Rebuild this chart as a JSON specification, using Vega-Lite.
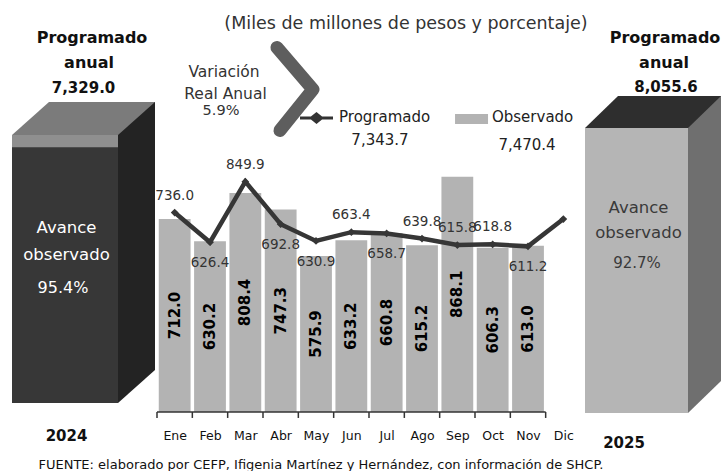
{
  "$schema": "https://vega.github.io/schema/vega-lite/v6.json",
  "padding": 0,
  "spacing": 0,
  "bounds": "flush",
  "background": "white",
  "config": {
    "view": {"stroke": null},
    "font": "DejaVu Sans",
    "axis": {"grid": false}
  },
  "hconcat": [
    {
      "width": 157,
      "height": 403,
      "data": {"values": [{"anio": "2024", "programado": 7329.0, "observado": 6991.9, "avance": 0.954}]},
      "encoding": {
        "x": {
          "field": "anio", "type": "nominal",
          "scale": {"paddingInner": 0, "paddingOuter": 0},
          "axis": {
            "title": "FUENTE: elaborado por CEFP, Ifigenia Martínez y Hernández, con información de SHCP.",
            "domain": false, "ticks": false, "labelAngle": 0,
            "labelOffset": -12, "labelPadding": 25,
            "labelFont": "DejaVu Sans", "labelFontWeight": "bold", "labelFontSize": 15, "labelColor": "#111",
            "titleX": 38, "titleY": 61, "titleAnchor": "start", "titleAlign": "left", "titleBaseline": "middle",
            "titleFont": "DejaVu Sans", "titleFontSize": 13, "titleFontWeight": "normal", "titleColor": "#111"
          }
        }
      },
      "layer": [
        {"mark": {"type": "bar", "width": 106, "xOffset": 23.5, "yOffset": -33, "color": "#232323"},
         "encoding": {"y": {"field": "programado", "type": "quantitative", "scale": {"domain": [0, 11021], "nice": false}, "axis": null}}},
        {"mark": {"type": "point", "shape": "M -53 0 L 53 0 L 90 -33 L -16 -33 Z", "size": 4, "filled": true, "fill": "#7b7b7b", "strokeWidth": 0, "opacity": 1, "xOffset": -13.5},
         "encoding": {"y": {"field": "programado", "type": "quantitative"}}},
        {"mark": {"type": "point", "shape": "M 53 0 L 53 -33 L 90 -33 Z", "size": 4, "filled": true, "fill": "#232323", "strokeWidth": 0, "opacity": 1, "xOffset": -13.5},
         "encoding": {"y": {"datum": 0, "type": "quantitative"}}},
        {"mark": {"type": "bar", "width": 106, "xOffset": -13.5, "color": "#8f8f8f"},
         "encoding": {"y": {"field": "programado", "type": "quantitative"}}},
        {"mark": {"type": "bar", "width": 106, "xOffset": -13.5, "color": "#373737"},
         "encoding": {"y": {"field": "observado", "type": "quantitative"}}},
        {"mark": {"type": "text", "text": "Programado", "fontWeight": "bold", "fontSize": 16, "baseline": "alphabetic", "dx": 13.5, "color": "#111"},
         "encoding": {"y": {"datum": 9845, "type": "quantitative"}}},
        {"mark": {"type": "text", "text": "anual", "fontWeight": "bold", "fontSize": 16, "baseline": "alphabetic", "dx": 10.5, "color": "#111"},
         "encoding": {"y": {"datum": 9161, "type": "quantitative"}}},
        {"mark": {"type": "text", "fontWeight": "bold", "fontSize": 15, "baseline": "alphabetic", "dx": 5, "color": "#111"},
         "encoding": {"y": {"datum": 8477, "type": "quantitative"}, "text": {"field": "programado", "type": "quantitative", "format": ",.1f"}}},
        {"mark": {"type": "text", "text": "Avance\nobservado", "lineBreak": "\n", "lineHeight": 27, "fontSize": 16.5, "color": "white", "dx": -12, "baseline": "middle"},
         "encoding": {"y": {"datum": 4786, "type": "quantitative"}}},
        {"mark": {"type": "text", "fontSize": 16, "color": "white", "dx": -15.5, "baseline": "middle"},
         "encoding": {"y": {"datum": 3145, "type": "quantitative"}, "text": {"field": "avance", "type": "quantitative", "format": ".1%"}}}
      ]
    },
    {
      "width": 424,
      "height": 412,
      "data": {"values": [
        {"mes": "Ene", "observado": 712.0, "programado": 736.0},
        {"mes": "Feb", "observado": 630.2, "programado": 626.4},
        {"mes": "Mar", "observado": 808.4, "programado": 849.9},
        {"mes": "Abr", "observado": 747.3, "programado": 692.8},
        {"mes": "May", "observado": 575.9, "programado": 630.9},
        {"mes": "Jun", "observado": 633.2, "programado": 663.4},
        {"mes": "Jul", "observado": 660.8, "programado": 658.7},
        {"mes": "Ago", "observado": 615.2, "programado": 639.8},
        {"mes": "Sep", "observado": 868.1, "programado": 615.8},
        {"mes": "Oct", "observado": 606.3, "programado": 618.8},
        {"mes": "Nov", "observado": 613.0, "programado": 611.2},
        {"mes": "Dic", "observado": null, "programado": 711.9}
      ]},
      "resolve": {"scale": {"y": "independent"}},
      "layer": [
        {
          "layer": [
            {"mark": {"type": "bar", "color": "#b3b3b3"},
             "encoding": {
               "x": {"field": "mes", "type": "ordinal",
                     "scale": {"domain": ["Ene","Feb","Mar","Abr","May","Jun","Jul","Ago","Sep","Oct","Nov","Dic"], "paddingInner": 0.1, "paddingOuter": 0.05},
                     "axis": {"title": null, "labelAngle": 0, "domain": false, "tickBand": "extent", "tickSize": 6, "tickOpacity": 0, "labelFont": "DejaVu Sans", "labelFontSize": 12.5, "labelColor": "#111", "labelPadding": 11}},
               "y": {"field": "observado", "type": "quantitative", "scale": {"domain": [0, 1520], "nice": false}, "axis": null}
             }},
            {"mark": {"type": "rule", "color": "#333", "strokeWidth": 1.5, "xOffset": -17.667},
             "encoding": {
               "x": {"field": "mes", "type": "ordinal", "title": null},
               "y": {"datum": 0, "type": "quantitative"},
               "y2": {"datum": -22}
             }},
            {"data": {"values": [{}]},
             "mark": {"type": "rule", "color": "#333", "strokeWidth": 1.5, "xOffset": -17.667, "x2Offset": -17.667},
             "encoding": {
               "x": {"datum": "Ene", "type": "ordinal"},
               "x2": {"datum": "Dic"},
               "y": {"datum": 0, "type": "quantitative"}
             }},
            {"mark": {"type": "line", "color": "#363636", "strokeWidth": 4.5, "point": {"shape": "diamond", "size": 60, "filled": true, "color": "#363636"}},
             "encoding": {
               "x": {"field": "mes", "type": "ordinal", "title": null},
               "y": {"field": "programado", "type": "quantitative"}
             }},
            {"transform": [{"filter": {"field": "mes", "oneOf": ["Ene","Mar","Jun","Ago","Sep","Oct"]}}],
             "mark": {"type": "text", "fontSize": 13.5, "color": "#333", "dy": -17},
             "encoding": {
               "x": {"field": "mes", "type": "ordinal", "title": null},
               "y": {"field": "programado", "type": "quantitative"},
               "text": {"field": "programado", "type": "quantitative", "format": ".1f"}
             }},
            {"transform": [{"filter": {"field": "mes", "oneOf": ["Feb","Abr","May","Jul","Nov"]}}],
             "mark": {"type": "text", "fontSize": 13.5, "color": "#333", "dy": 21},
             "encoding": {
               "x": {"field": "mes", "type": "ordinal", "title": null},
               "y": {"field": "programado", "type": "quantitative"},
               "text": {"field": "programado", "type": "quantitative", "format": ".1f"}
             }},
            {"data": {"values": [{}]},
             "mark": {"type": "text", "text": "(Miles de millones de pesos y porcentaje)", "fontSize": 17.5, "color": "#333", "dx": -16},
             "encoding": {"x": {"datum": "Ago", "type": "ordinal"}, "y": {"datum": 1431.5, "type": "quantitative"}}},
            {"data": {"values": [{}]},
             "mark": {"type": "text", "text": "Variación", "fontSize": 15.5, "color": "#333", "dx": 14},
             "encoding": {"x": {"datum": "Feb", "type": "ordinal"}, "y": {"datum": 1254.4, "type": "quantitative"}}},
            {"data": {"values": [{}]},
             "mark": {"type": "text", "text": "Real Anual", "fontSize": 15.5, "color": "#333", "dx": 15.5},
             "encoding": {"x": {"datum": "Feb", "type": "ordinal"}, "y": {"datum": 1173.2, "type": "quantitative"}}},
            {"data": {"values": [{}]},
             "mark": {"type": "text", "text": "5.9%", "fontSize": 14.5, "color": "#333", "dx": 11},
             "encoding": {"x": {"datum": "Feb", "type": "ordinal"}, "y": {"datum": 1110.5, "type": "quantitative"}}},
            {"data": {"values": [{}]},
             "mark": {"type": "point", "shape": "M -18 -42 L 18 0 L -15 41", "size": 4, "filled": false, "stroke": "#5e5e5e", "strokeWidth": 13, "strokeCap": "round", "strokeJoin": "round", "opacity": 1, "xOffset": 14.3},
             "encoding": {"x": {"datum": "Abr", "type": "ordinal"}, "y": {"datum": 1190, "type": "quantitative"}}},
            {"data": {"values": [{}]},
             "mark": {"type": "point", "shape": "M -16.5 0 L 16.5 0 M -5 0 L 0 -4 L 5 0 L 0 4 Z", "size": 4, "filled": true, "fill": "#333", "stroke": "#333", "strokeWidth": 3, "opacity": 1, "xOffset": 0.5},
             "encoding": {"x": {"datum": "May", "type": "ordinal"}, "y": {"datum": 1084.7, "type": "quantitative"}}},
            {"data": {"values": [{}]},
             "mark": {"type": "text", "text": "Programado", "fontSize": 15, "color": "#222", "align": "left", "dx": -12.3},
             "encoding": {"x": {"datum": "Jun", "type": "ordinal"}, "y": {"datum": 1088.4, "type": "quantitative"}}},
            {"data": {"values": [{}]},
             "mark": {"type": "text", "text": "7,343.7", "fontSize": 15, "color": "#222", "dx": -6.7},
             "encoding": {"x": {"datum": "Jul", "type": "ordinal"}, "y": {"datum": 1003.5, "type": "quantitative"}}},
            {"data": {"values": [{}]},
             "mark": {"type": "point", "shape": "M -16.5 -5 L 16.5 -5 L 16.5 5 L -16.5 5 Z", "size": 4, "filled": true, "fill": "#b3b3b3", "strokeWidth": 0, "opacity": 1, "xOffset": 14.2},
             "encoding": {"x": {"datum": "Sep", "type": "ordinal"}, "y": {"datum": 1081, "type": "quantitative"}}},
            {"data": {"values": [{}]},
             "mark": {"type": "text", "text": "Observado", "fontSize": 15, "color": "#222", "align": "left", "dx": -0.7},
             "encoding": {"x": {"datum": "Oct", "type": "ordinal"}, "y": {"datum": 1088.4, "type": "quantitative"}}},
            {"data": {"values": [{}]},
             "mark": {"type": "text", "text": "7,470.4", "fontSize": 15, "color": "#222", "dx": -1},
             "encoding": {"x": {"datum": "Nov", "type": "ordinal"}, "y": {"datum": 985, "type": "quantitative"}}}
          ]
        },
        {
          "transform": [{"filter": "datum.observado != null"}],
          "mark": {"type": "text", "angle": 270, "fontWeight": "bold", "fontSize": 15, "color": "#000", "baseline": "middle", "align": "center"},
          "encoding": {
            "x": {"field": "mes", "type": "ordinal", "title": null},
            "y": {"field": "observado", "type": "quantitative", "scale": {"domain": [0, 3040], "nice": false}, "axis": null},
            "text": {"field": "observado", "type": "quantitative", "format": ".1f"}
          }
        }
      ]
    },
    {
      "width": 140,
      "height": 413,
      "data": {"values": [{"anio": "2025", "programado": 8055.6, "avance": 0.927}]},
      "encoding": {
        "x": {
          "field": "anio", "type": "nominal",
          "scale": {"paddingInner": 0, "paddingOuter": 0},
          "axis": {
            "title": null, "domain": false, "ticks": false, "labelAngle": 0,
            "labelOffset": -27, "labelPadding": 22,
            "labelFont": "DejaVu Sans", "labelFontWeight": "bold", "labelFontSize": 15, "labelColor": "#111"
          }
        }
      },
      "layer": [
        {"mark": {"type": "bar", "width": 103, "xOffset": 18.5, "yOffset": -32, "color": "#6f6f6f"},
         "encoding": {"y": {"field": "programado", "type": "quantitative", "scale": {"domain": [0, 11673], "nice": false}, "axis": null}}},
        {"mark": {"type": "point", "shape": "M -51.5 0 L 51.5 0 L 84.5 -32 L -18.5 -32 Z", "size": 4, "filled": true, "fill": "#2e2e2e", "strokeWidth": 0, "opacity": 1, "xOffset": -14.5},
         "encoding": {"y": {"field": "programado", "type": "quantitative"}}},
        {"mark": {"type": "point", "shape": "M 51.5 0 L 51.5 -32 L 84.5 -32 Z", "size": 4, "filled": true, "fill": "#6f6f6f", "strokeWidth": 0, "opacity": 1, "xOffset": -14.5},
         "encoding": {"y": {"datum": 0, "type": "quantitative"}}},
        {"mark": {"type": "bar", "width": 103, "xOffset": -14.5, "color": "#b5b5b5"},
         "encoding": {"y": {"field": "programado", "type": "quantitative"}}},
        {"mark": {"type": "text", "text": "Programado", "fontWeight": "bold", "fontSize": 16, "baseline": "alphabetic", "dx": 14, "color": "#111"},
         "encoding": {"y": {"datum": 10458, "type": "quantitative"}}},
        {"mark": {"type": "text", "text": "anual", "fontWeight": "bold", "fontSize": 16, "baseline": "alphabetic", "dx": 13, "color": "#111"},
         "encoding": {"y": {"datum": 9751, "type": "quantitative"}}},
        {"mark": {"type": "text", "fontWeight": "bold", "fontSize": 15, "baseline": "alphabetic", "dx": 15, "color": "#111"},
         "encoding": {"y": {"datum": 9073, "type": "quantitative"}, "text": {"field": "programado", "type": "quantitative", "format": ",.1f"}}},
        {"mark": {"type": "text", "text": "Avance\nobservado", "lineBreak": "\n", "lineHeight": 25, "fontSize": 16.5, "color": "#3a3a3a", "dx": -12.5, "baseline": "middle"},
         "encoding": {"y": {"datum": 5794, "type": "quantitative"}}},
        {"mark": {"type": "text", "fontSize": 15, "color": "#3a3a3a", "dx": -14, "baseline": "middle"},
         "encoding": {"y": {"datum": 4240, "type": "quantitative"}, "text": {"field": "avance", "type": "quantitative", "format": ".1%"}}}
      ]
    }
  ]
}
